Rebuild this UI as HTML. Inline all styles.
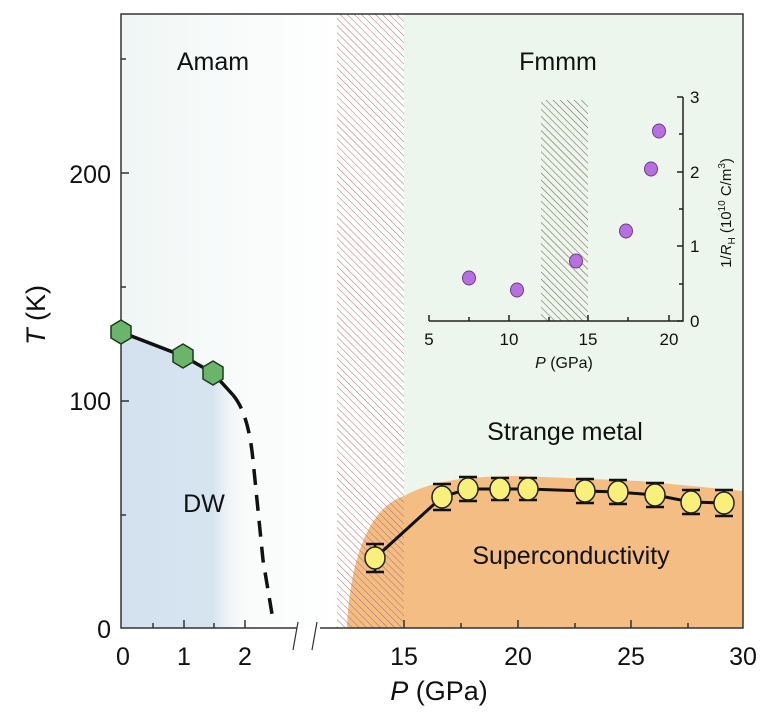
<!DOCTYPE html>
<html><head><meta charset="utf-8"><style>html,body{margin:0;padding:0;background:#fff}svg{display:block}text{font-family:"Liberation Sans",sans-serif;fill:#111}</style></head><body>
<svg width="763" height="715" viewBox="0 0 763 715" xmlns="http://www.w3.org/2000/svg">
<defs>
<linearGradient id="lg" x1="0" x2="1" y1="0" y2="0"><stop offset="0" stop-color="#f0f6f5"/><stop offset="1" stop-color="#ffffff"/></linearGradient>
<linearGradient id="bl" x1="0" x2="1" y1="0" y2="0"><stop offset="0" stop-color="#d3e1ef"/><stop offset="0.7" stop-color="#d7e4f0"/><stop offset="1" stop-color="#ffffff" stop-opacity="0"/></linearGradient>
<pattern id="h1" width="5" height="5" patternUnits="userSpaceOnUse" patternTransform="rotate(-45)"><line x1="0" y1="0" x2="0" y2="5" stroke="#a86a6a" stroke-width="1.1"/></pattern>
<pattern id="h2" width="5" height="5" patternUnits="userSpaceOnUse" patternTransform="rotate(-45)"><line x1="0" y1="0" x2="0" y2="5" stroke="#7a6a5a" stroke-width="1.2"/></pattern>
</defs>
<rect x="121" y="14" width="216" height="614" fill="url(#lg)"/>
<rect x="404" y="14" width="339" height="614" fill="#edf6ec"/>
<path d="M121,332 L183,356 L213,373 L233,395 C240,405 243,420 244,440 L252,628 L121,628 Z" fill="url(#bl)"/>
<path d="M347,628 C350,560 368,508 404,496 C430,482 460,476 520,476 L640,481 L743,491 L743,628 Z" fill="#f4bd83"/>
<rect x="337" y="14" width="67" height="614" fill="url(#h1)" opacity="0.9"/>
<rect x="541" y="100" width="47" height="221" fill="url(#h2)"/>
<g stroke="#222" stroke-width="1.5" fill="none">
<path d="M429,321 H683 V97"/>
<path d="M429,321v-6M469,321v-4M509,321v-6M549,321v-4M588,321v-6M628,321v-4M669,321v-6"/>
<path d="M683,321h-6M683,284h-4M683,246h-6M683,209h-4M683,172h-6M683,134h-4M683,97h-6"/>
</g>
<g fill="#b870e0" stroke="#6a3c8a" stroke-width="1">
<ellipse cx="469" cy="278" rx="6.5" ry="7"/><ellipse cx="517" cy="290" rx="6.5" ry="7"/><ellipse cx="576" cy="261" rx="6.5" ry="7"/><ellipse cx="626" cy="231" rx="6.5" ry="7"/><ellipse cx="651" cy="169" rx="6.5" ry="7"/><ellipse cx="659" cy="131" rx="6.5" ry="7"/>
</g>
<g font-size="17" text-anchor="middle"><text x="429" y="345">5</text><text x="509" y="345">10</text><text x="588" y="345">15</text><text x="669" y="345">20</text></g>
<text x="564" y="368" font-size="16" text-anchor="middle"><tspan font-style="italic">P</tspan> (GPa)</text>
<g font-size="17"><text x="690" y="327">0</text><text x="690" y="252">1</text><text x="690" y="178">2</text><text x="690" y="103">3</text></g>
<text transform="translate(731,213) rotate(-90)" font-size="15" text-anchor="middle">1/<tspan font-style="italic">R</tspan><tspan font-size="10" dy="4">H</tspan><tspan dy="-4"> (10</tspan><tspan font-size="10" dy="-6">10</tspan><tspan dy="6"> C/m</tspan><tspan font-size="10" dy="-6">3</tspan><tspan dy="6">)</tspan></text>
<g stroke="#333" stroke-width="1.5" fill="none">
<path d="M297,628 H121 V14 H743 V628 H320"/>
<path d="M121,173h8M121,401h8M121,59h5M121,287h5M121,515h5"/>
<path d="M153,628v-5M184,628v-8M214,628v-5M245,628v-8M404,628v-8M518,628v-8M631,628v-8M461,628v-5M575,628v-5M688,628v-5"/>
<path d="M293,650 L298,622 M312,650 L317,622" stroke-width="1.2"/>
</g>
<polyline points="121,332 183,356 213,373 233,395" stroke="#111" stroke-width="3.5" fill="none"/>
<path d="M233,395 C244,408 250,430 253,460 L263,560 L273,620" stroke="#111" stroke-width="3.5" fill="none" stroke-dasharray="16,10"/>
<g fill="#6bb56b" stroke="#1d3a1d" stroke-width="1.5">
<polygon points="121,320 131,326 131,338 121,344 111,338 111,326"/>
<polygon points="183,344 193,350 193,362 183,368 173,362 173,350"/>
<polygon points="213,361 223,367 223,379 213,385 203,379 203,367"/>
</g>
<polyline points="375,558 442,497 468,489 500,489 528,489 585,491 618,492 655,495 691,502 724,503" stroke="#111" stroke-width="3" fill="none"/>
<g stroke="#111" stroke-width="2.5">
<path d="M375,544v28M366,544h18M366,572h18"/>
<path d="M442,484v26M433,484h18M433,510h18"/>
<path d="M468,477v24M459,477h18M459,501h18"/>
<path d="M500,478v22M491,478h18M491,500h18"/>
<path d="M528,478v22M519,478h18M519,500h18"/>
<path d="M585,479v24M576,479h18M576,503h18"/>
<path d="M618,480v24M609,480h18M609,504h18"/>
<path d="M655,483v24M646,483h18M646,507h18"/>
<path d="M691,490v24M682,490h18M682,514h18"/>
<path d="M724,490v26M715,490h18M715,516h18"/>
</g>
<g fill="#f8f07a" stroke="#222" stroke-width="1.5">
<ellipse cx="375" cy="558" rx="10" ry="11"/><ellipse cx="442" cy="497" rx="10" ry="11"/><ellipse cx="468" cy="489" rx="10" ry="11"/><ellipse cx="500" cy="489" rx="10" ry="11"/><ellipse cx="528" cy="489" rx="10" ry="11"/><ellipse cx="585" cy="491" rx="10" ry="11"/><ellipse cx="618" cy="492" rx="10" ry="11"/><ellipse cx="655" cy="495" rx="10" ry="11"/><ellipse cx="691" cy="502" rx="10" ry="11"/><ellipse cx="724" cy="503" rx="10" ry="11"/>
</g>
<g font-size="25" text-anchor="middle">
<text x="213" y="70">Amam</text><text x="558" y="70">Fmmm</text>
<text x="565" y="440">Strange metal</text><text x="571" y="564">Superconductivity</text>
<text x="204" y="512">DW</text>
</g>
<g font-size="25" text-anchor="end"><text x="111" y="183">200</text><text x="111" y="410">100</text><text x="111" y="638">0</text></g>
<g font-size="25" text-anchor="middle"><text x="123" y="665">0</text><text x="184" y="665">1</text><text x="245" y="665">2</text><text x="404" y="665">15</text><text x="518" y="665">20</text><text x="631" y="665">25</text><text x="743" y="665">30</text></g>
<text x="439" y="700" font-size="27" text-anchor="middle"><tspan font-style="italic">P</tspan> (GPa)</text>
<text transform="translate(45,315) rotate(-90)" font-size="27" text-anchor="middle"><tspan font-style="italic">T</tspan> (K)</text>
</svg>
</body></html>
